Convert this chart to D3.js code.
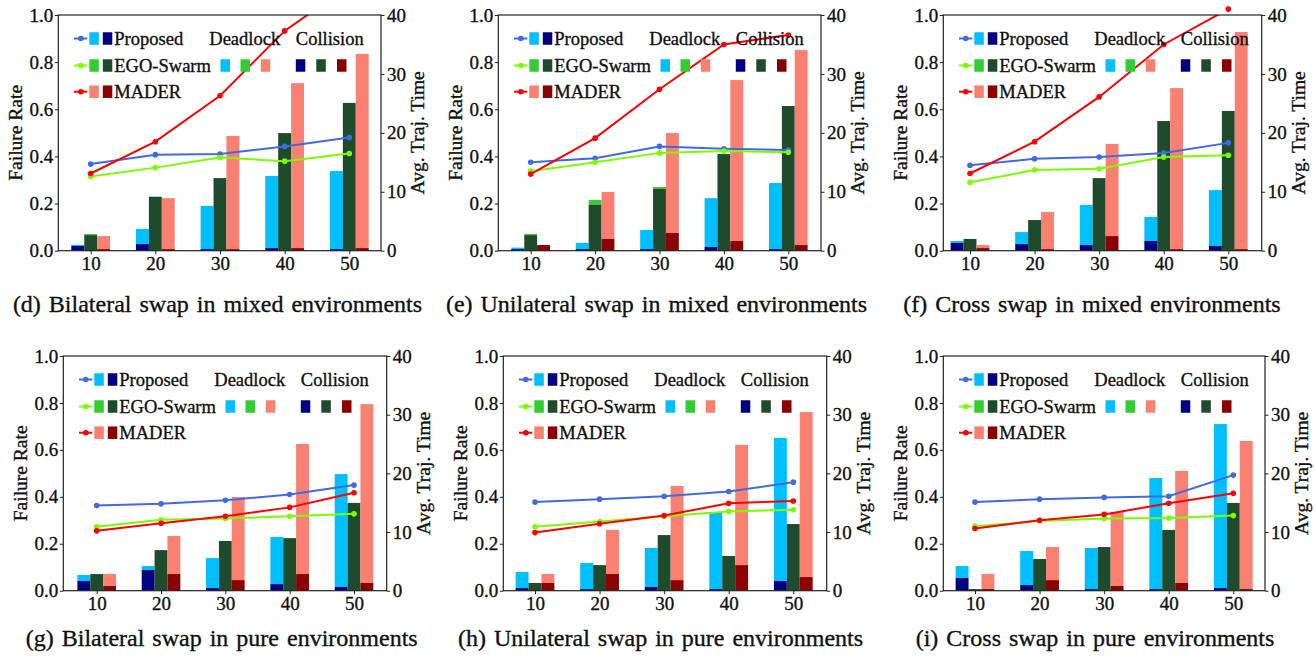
<!DOCTYPE html>
<html>
<head>
<meta charset="utf-8">
<script src="https://cdn.jsdelivr.net/npm/d3@7"></script>
<style>
  body { margin: 0; background: #fff; }
  svg { display: block; font-family: "Liberation Serif", "Times New Roman", serif; }
  svg text { stroke: #111; stroke-width: 0.35px; }
</style>
</head>
<body>
<script>
const counts = [10, 20, 30, 40, 50];
const rateTicks = [0, 0.2, 0.4, 0.6, 0.8, 1.0];
const timeTicks = [0, 10, 20, 30, 40];
const methods = ["Proposed", "EGO-Swarm", "MADER"];
const captions = [
  "(d) Bilateral swap in mixed environments",
  "(e) Unilateral swap in mixed environments",
  "(f) Cross swap in mixed environments",
  "(g) Bilateral swap in pure environments",
  "(h) Unilateral swap in pure environments",
  "(i) Cross swap in pure environments"
];

// one row per panel, in the order d, e, f, g, h, i
const proposedCollision = [
  [0.02, 0.028, 0.003, 0.011, 0.002],
  [0, 0, 0.002, 0.016, 0],
  [0.033, 0.028, 0.024, 0.041, 0.02],
  [0.041, 0.088, 0.011, 0.028, 0.016],
  [0.011, 0.004, 0.016, 0.002, 0.041],
  [0.054, 0.024, 0.003, 0.001, 0.011]
];
const proposedDeadlock = [
  [0.005, 0.064, 0.187, 0.306, 0.336],
  [0.013, 0.033, 0.086, 0.207, 0.287],
  [0.008, 0.051, 0.17, 0.102, 0.237],
  [0.026, 0.017, 0.128, 0.201, 0.481],
  [0.069, 0.114, 0.166, 0.333, 0.61],
  [0.051, 0.145, 0.179, 0.479, 0.699]
];
const egoCollision = [
  [0.066, 0.229, 0.308, 0.499, 0.627],
  [0.066, 0.195, 0.262, 0.41, 0.614],
  [0.05, 0.13, 0.308, 0.55, 0.593],
  [0.071, 0.173, 0.212, 0.224, 0.374],
  [0.033, 0.109, 0.237, 0.148, 0.284],
  [0.007, 0.135, 0.186, 0.259, 0.374]
];
const egoDeadlock = [
  [0.005, 0, 0, 0, 0],
  [0.005, 0.02, 0.008, 0, 0],
  [0, 0, 0, 0, 0],
  [0, 0, 0, 0, 0],
  [0, 0, 0, 0, 0],
  [0, 0, 0, 0, 0]
];
const maderCollision = [
  [0, 0, 0, 0.011, 0.011],
  [0.024, 0.05, 0.075, 0.041, 0.024],
  [0.011, 0, 0.062, 0, 0],
  [0.02, 0.071, 0.045, 0.071, 0.033],
  [0.033, 0.071, 0.045, 0.109, 0.058],
  [0.007, 0.045, 0.02, 0.033, 0.007]
];
const maderDeadlock = [
  [0.062, 0.223, 0.487, 0.7, 0.824],
  [0, 0.199, 0.424, 0.683, 0.827],
  [0.013, 0.164, 0.391, 0.69, 0.928],
  [0.051, 0.162, 0.354, 0.554, 0.762],
  [0.038, 0.188, 0.401, 0.512, 0.703],
  [0.064, 0.141, 0.315, 0.477, 0.631]
];
// average trajectory time (right axis)
const proposedTime = [
  [14.7, 16.3, 16.4, 17.7, 19.2],
  [15.0, 15.7, 17.7, 17.3, 17.1],
  [14.5, 15.6, 15.9, 16.6, 18.3],
  [14.5, 14.8, 15.4, 16.4, 18.0],
  [15.1, 15.6, 16.1, 16.9, 18.5],
  [15.1, 15.6, 15.9, 16.1, 19.7]
];
const egoTime = [
  [12.6, 14.1, 15.8, 15.2, 16.5],
  [13.5, 15.0, 16.6, 16.9, 16.7],
  [11.6, 13.7, 13.9, 15.9, 16.2],
  [10.9, 12.1, 12.3, 12.7, 13.1],
  [10.9, 11.8, 12.7, 13.5, 13.8],
  [11.0, 11.9, 12.3, 12.4, 12.8]
];
const maderTime = [
  [13.1, 18.5, 26.3, 37.3, 45.0],
  [13.0, 19.1, 27.4, 35.0, 36.6],
  [13.1, 18.5, 26.1, 35.0, 41.0],
  [10.2, 11.5, 12.7, 14.2, 16.7],
  [9.9, 11.4, 12.8, 14.9, 15.3],
  [10.6, 12.0, 13.0, 14.9, 16.6]
];

const collisionColors = ["#000080", "#1e4b2c", "#8b0000"];
const deadlockColors = ["#00bfff", "#32cd32", "#fa8072"];
const lineColors = ["#4169e1", "#7cfc00", "#ff0000"];

// plot boxes
const layout = [
  { left: 58.3, right: 381, top: 15, bottom: 250.7, x10: 90.7, x50: 349.3, capX: 217.5, capY: 312 },
  { left: 498.3, right: 821, top: 15, bottom: 250.7, x10: 530.7, x50: 788.3, capX: 656.5, capY: 312 },
  { left: 943.3, right: 1261.7, top: 15, bottom: 250.7, x10: 970, x50: 1228.3, capX: 1092, capY: 312 },
  { left: 63.3, right: 386.7, top: 356, bottom: 590.7, x10: 96.7, x50: 354, capX: 221.7, capY: 646 },
  { left: 503.3, right: 826.7, top: 356, bottom: 590.7, x10: 535, x50: 793.3, capX: 660.5, capY: 646 },
  { left: 943.3, right: 1265, top: 356, bottom: 590.7, x10: 975, x50: 1233.3, capX: 1095, capY: 646 }
];

const svg = d3.select("body").append("svg")
  .attr("width", 1315)
  .attr("height", 665);

layout.forEach((L, p) => {
  const g = svg.append("g");
  const x = d3.scaleLinear().domain([10, 50]).range([L.x10, L.x50]);
  const yRate = d3.scaleLinear().domain([0, 1]).range([L.bottom, L.top]);
  const yTime = d3.scaleLinear().domain([0, 40]).range([L.bottom, L.top]);
  const unit = x(12) - x(10); // bar width = 2 units

  const collision = [proposedCollision[p], egoCollision[p], maderCollision[p]];
  const deadlock = [proposedDeadlock[p], egoDeadlock[p], maderDeadlock[p]];
  const times = [proposedTime[p], egoTime[p], maderTime[p]];

  // bars: collision at the bottom, deadlock stacked on top
  methods.forEach((m, mi) => {
    const off = (mi - 1) * 2;
    const rows = counts.map((c, i) => ({ c, col: collision[mi][i], dead: deadlock[mi][i] }));
    g.selectAll(null).data(rows).join("rect")
      .attr("x", (d) => x(d.c + off) - unit / 2)
      .attr("width", unit)
      .attr("y", (d) => yRate(d.col + d.dead))
      .attr("height", (d) => yRate(d.col) - yRate(d.col + d.dead))
      .attr("fill", deadlockColors[mi]);
    g.selectAll(null).data(rows).join("rect")
      .attr("x", (d) => x(d.c + off) - unit / 2)
      .attr("width", unit)
      .attr("y", (d) => Math.min(yRate(d.col), L.bottom - 1.5))
      .attr("height", (d) => Math.max(yRate(0) - yRate(d.col), 1.5))
      .attr("fill", collisionColors[mi]);
  });

  // axes
  const styleAxis = (sel) => {
    sel.select(".domain").remove();
    sel.selectAll("line").attr("stroke", "#222");
    sel.selectAll("text")
      .attr("font-size", 19)
      .attr("font-family", "Liberation Serif, Times New Roman, serif")
      .attr("fill", "#111");
  };
  g.append("g")
    .attr("transform", `translate(${L.left},0)`)
    .call(d3.axisLeft(yRate).tickValues(rateTicks).tickFormat(d3.format(".1f")).tickSize(3.5).tickPadding(1.5))
    .call(styleAxis);
  g.append("g")
    .attr("transform", `translate(${L.right},0)`)
    .call(d3.axisRight(yTime).tickValues(timeTicks).tickSize(3.5).tickPadding(2.5))
    .call(styleAxis);
  g.append("g")
    .attr("transform", `translate(0,${L.bottom})`)
    .call(d3.axisBottom(x).tickValues(counts).tickFormat(d3.format("d")).tickSize(3.5).tickPadding(2.5))
    .call(styleAxis);

  // lines (clipped to the box), markers left unclipped
  const clipId = "clip" + p;
  svg.append("clipPath").attr("id", clipId)
    .append("rect")
    .attr("x", L.left).attr("y", L.top)
    .attr("width", L.right - L.left).attr("height", L.bottom - L.top);
  const line = d3.line().x((d) => x(d.c)).y((d) => yTime(d.t));
  methods.forEach((m, mi) => {
    const pts = counts.map((c, i) => ({ c, t: times[mi][i] }));
    g.append("path")
      .attr("d", line(pts))
      .attr("clip-path", `url(#${clipId})`)
      .attr("fill", "none")
      .attr("stroke", lineColors[mi])
      .attr("stroke-width", 2);
    g.selectAll(null).data(pts).join("circle")
      .attr("cx", (d) => x(d.c))
      .attr("cy", (d) => yTime(d.t))
      .attr("r", 2.8)
      .attr("fill", lineColors[mi]);
  });

  // frame
  g.append("rect")
    .attr("x", L.left).attr("y", L.top)
    .attr("width", L.right - L.left).attr("height", L.bottom - L.top)
    .attr("fill", "none")
    .attr("stroke", "#222")
    .attr("stroke-width", 1.2);

  // legend
  const rowY = [L.top + 23.5, L.top + 50.5, L.top + 76.7];
  const sq = 9.5, sqH = 12.5;
  methods.forEach((m, mi) => {
    const ly = rowY[mi];
    g.append("line")
      .attr("x1", L.left + 15.7).attr("x2", L.left + 29)
      .attr("y1", ly).attr("y2", ly)
      .attr("stroke", lineColors[mi]).attr("stroke-width", 2);
    g.append("circle")
      .attr("cx", L.left + 22.5).attr("cy", ly).attr("r", 2.8)
      .attr("fill", lineColors[mi]);
    g.append("rect")
      .attr("x", L.left + 31).attr("y", ly - sqH / 2)
      .attr("width", sq).attr("height", sqH)
      .attr("fill", deadlockColors[mi]);
    g.append("rect")
      .attr("x", L.left + 44.5).attr("y", ly - sqH / 2)
      .attr("width", sq).attr("height", sqH)
      .attr("fill", collisionColors[mi]);
    g.append("text")
      .attr("x", L.left + 56).attr("y", ly).attr("dy", "0.35em")
      .attr("font-size", 18.5).attr("fill", "#111")
      .text(m);
  });
  g.append("text")
    .attr("x", L.left + 151).attr("y", rowY[0]).attr("dy", "0.35em")
    .attr("font-size", 18.5).attr("fill", "#111")
    .text("Deadlock");
  g.append("text")
    .attr("x", L.left + 237.5).attr("y", rowY[0]).attr("dy", "0.35em")
    .attr("font-size", 18.5).attr("fill", "#111")
    .text("Collision");
  [162.2, 182.2, 202.5].forEach((dx, mi) => {
    g.append("rect")
      .attr("x", L.left + dx).attr("y", rowY[1] - sqH / 2)
      .attr("width", sq).attr("height", sqH)
      .attr("fill", deadlockColors[mi]);
  });
  [237.5, 258, 278.7].forEach((dx, mi) => {
    g.append("rect")
      .attr("x", L.left + dx).attr("y", rowY[1] - sqH / 2)
      .attr("width", sq).attr("height", sqH)
      .attr("fill", collisionColors[mi]);
  });

  // axis titles
  const midY = (L.top + L.bottom) / 2;
  g.append("text")
    .attr("transform", `translate(${L.left - 43.3},${midY}) rotate(-90)`)
    .attr("text-anchor", "middle").attr("dy", "0.35em")
    .attr("font-size", 19.5).attr("fill", "#111")
    .text("Failure Rate");
  g.append("text")
    .attr("transform", `translate(${L.right + 36},${midY}) rotate(-90)`)
    .attr("text-anchor", "middle").attr("dy", "0.35em")
    .attr("font-size", 19.5).attr("fill", "#111")
    .text("Avg. Traj. Time");

  // caption
  svg.append("text")
    .attr("x", L.capX).attr("y", L.capY)
    .attr("text-anchor", "middle")
    .attr("font-size", 24).attr("fill", "#111")
    .attr("word-spacing", 2)
    .text(captions[p]);
});
</script>
</body>
</html>
